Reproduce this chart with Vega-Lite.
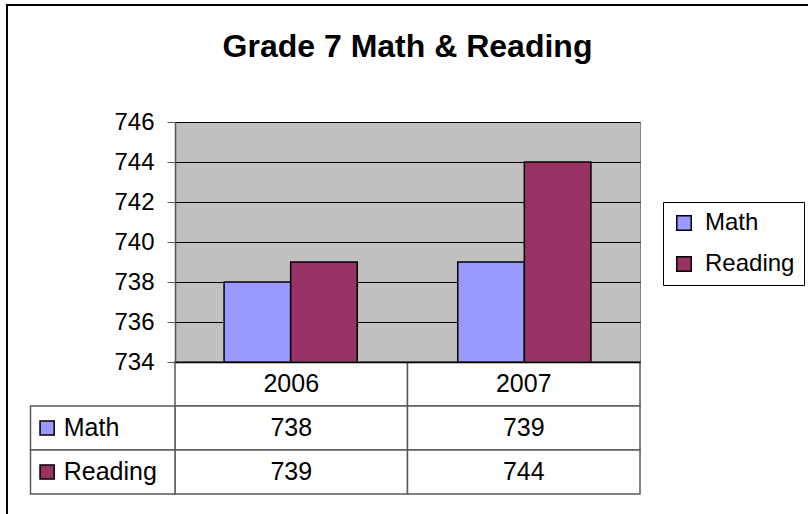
{
  "$schema": "https://vega.github.io/schema/vega-lite/v6.json",
  "width": 465,
  "height": 240,
  "autosize": "none",
  "padding": {"left": 175, "top": 122, "right": 168, "bottom": 152},
  "background": "white",
  "config": {
    "view": {"fill": "#C0C0C0", "stroke": "#808080", "strokeWidth": 1},
    "font": "Liberation Sans"
  },
  "title": {
    "text": "Grade 7 Math & Reading",
    "font": "Liberation Sans",
    "fontSize": 32,
    "fontWeight": "bold",
    "color": "black",
    "frame": "group",
    "anchor": "middle",
    "offset": -60
  },
  "datasets": {
    "scores": [
      {"year": "2006", "series": "Math", "value": 738},
      {"year": "2006", "series": "Reading", "value": 739},
      {"year": "2007", "series": "Math", "value": 739},
      {"year": "2007", "series": "Reading", "value": 744}
    ]
  },
  "data": {"name": "scores"},
  "layer": [
    {
      "transform": [{"aggregate": [{"op": "count", "as": "n"}]}],
      "mark": {"type": "rect", "fill": null, "fillOpacity": 0, "stroke": "black", "strokeWidth": 2},
      "encoding": {
        "x": {"datum": 0, "type": "quantitative", "scale": {"domain": [0, 1], "range": [-168, 700], "nice": false, "zero": false}, "axis": null},
        "x2": {"datum": 1},
        "y": {"datum": 0, "type": "quantitative", "scale": {"domain": [0, 1], "range": [-117, 450], "nice": false, "zero": false}, "axis": null},
        "y2": {"datum": 1}
      }
    },
    {
      "mark": {"type": "bar", "stroke": "black", "strokeWidth": 1.5},
      "encoding": {
        "x": {
          "field": "year", "type": "nominal",
          "scale": {"paddingInner": 0.43, "paddingOuter": 0.21},
          "axis": {"labels": false, "ticks": false, "grid": false, "domain": true, "domainColor": "black", "domainWidth": 1.5, "title": null, "zindex": 1}
        },
        "xOffset": {"field": "series", "type": "nominal", "scale": {"paddingInner": 0, "paddingOuter": 0}},
        "y": {
          "field": "value", "type": "quantitative",
          "scale": {"domain": [734, 746], "zero": false, "nice": false},
          "axis": {
            "values": [734, 736, 738, 740, 742, 744, 746],
            "title": null,
            "grid": true, "gridColor": "#000000", "gridWidth": 1,
            "domainColor": "#555555", "domainWidth": 1.5,
            "tickColor": "#555555", "tickSize": 8, "tickWidth": 1,
            "labelFont": "Liberation Sans", "labelFontSize": 24, "labelColor": "black", "labelPadding": 13
          }
        },
        "y2": {"datum": 734},
        "color": {
          "field": "series", "type": "nominal",
          "scale": {"domain": ["Math", "Reading"], "range": ["#9999FF", "#993366"]},
          "legend": {
            "orient": "none", "legendX": 488, "legendY": 80,
            "title": null,
            "strokeColor": "black", "fillColor": "white",
            "padding": 9,
            "labelFont": "Liberation Sans", "labelFontSize": 24, "labelColor": "black",
            "symbolType": "square", "symbolSize": 210,
            "symbolStrokeColor": "black", "symbolStrokeWidth": 1.5,
            "rowPadding": 17, "labelOffset": 9
          }
        }
      }
    },
    {
      "encoding": {
        "x": {"field": "year", "type": "nominal", "scale": {"paddingInner": 0, "paddingOuter": 0}, "axis": null},
        "y": {"field": "series", "type": "nominal", "scale": {"domain": ["header", "Math", "Reading"], "range": [240, 372], "paddingInner": 0, "paddingOuter": 0}, "axis": null}
      },
      "layer": [
        {
          "transform": [{"aggregate": [{"op": "count", "as": "n"}], "groupby": ["year"]}],
          "mark": {"type": "rect", "fill": "white", "stroke": "#5a5a5a", "strokeWidth": 1.5},
          "encoding": {"y": {"datum": "header", "type": "nominal"}}
        },
        {
          "transform": [{"aggregate": [{"op": "count", "as": "n"}], "groupby": ["year"]}],
          "mark": {"type": "text", "font": "Liberation Sans", "fontSize": 25, "color": "black", "baseline": "middle", "align": "center"},
          "encoding": {"y": {"datum": "header", "type": "nominal"}, "text": {"field": "year"}}
        },
        {
          "mark": {"type": "rect", "fill": "white", "stroke": "#5a5a5a", "strokeWidth": 1.5}
        },
        {
          "mark": {"type": "text", "font": "Liberation Sans", "fontSize": 25, "color": "black", "baseline": "middle", "align": "center"},
          "encoding": {"text": {"field": "value", "type": "quantitative"}}
        }
      ]
    },
    {
      "transform": [{"aggregate": [{"op": "count", "as": "n"}], "groupby": ["series"]}],
      "encoding": {
        "x": {"datum": "label", "type": "nominal", "scale": {"domain": ["label"], "range": [-144.5, 0], "paddingInner": 0, "paddingOuter": 0}, "axis": null},
        "y": {"field": "series", "type": "nominal", "scale": {"domain": ["header", "Math", "Reading"], "range": [240, 372], "paddingInner": 0, "paddingOuter": 0}, "axis": null}
      },
      "layer": [
        {
          "mark": {"type": "rect", "fill": "white", "stroke": "#5a5a5a", "strokeWidth": 1.5}
        },
        {
          "mark": {"type": "point", "shape": "square", "filled": true, "opacity": 1, "stroke": "black", "strokeWidth": 1.5, "size": 200},
          "encoding": {
            "x": {"datum": "label", "type": "nominal", "bandPosition": 0.115},
            "color": {"field": "series", "type": "nominal"}
          }
        },
        {
          "mark": {"type": "text", "font": "Liberation Sans", "fontSize": 25, "color": "black", "baseline": "middle", "align": "left"},
          "encoding": {
            "x": {"datum": "label", "type": "nominal", "bandPosition": 0.23},
            "text": {"field": "series"}
          }
        }
      ]
    }
  ],
  "resolve": {"scale": {"x": "independent", "y": "independent"}}
}
